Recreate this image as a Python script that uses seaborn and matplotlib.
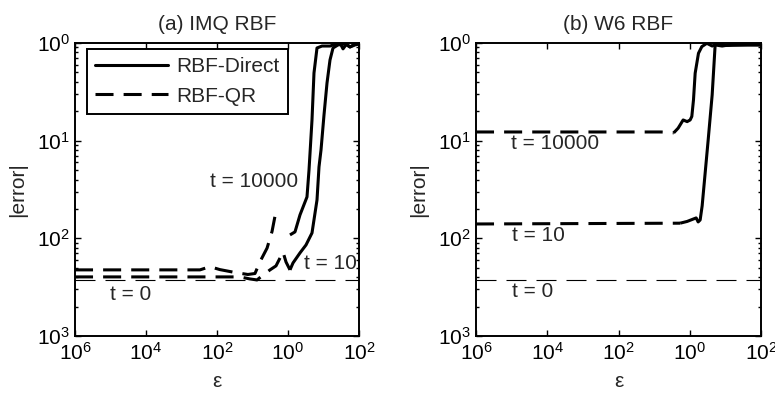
import numpy as np
import pandas as pd
import matplotlib
matplotlib.use("Agg")
import matplotlib.pyplot as plt
import matplotlib.ticker as mticker
from matplotlib.lines import Line2D
import seaborn as sns

# ---------------- data (log10 exponents) ----------------
panel_titles = ["(a) IMQ RBF", "(b) W6 RBF"]
xtick_exp = [-6, -4, -2, 0, 2]
xtick_labels = ["$10^{6}$", "$10^{4}$", "$10^{2}$", "$10^{0}$", "$10^{2}$"]
ytick_exp = [0, -1, -2, -3]
ytick_labels = ["$10^{0}$", "$10^{1}$", "$10^{2}$", "$10^{3}$"]
legend_labels = ["RBF-Direct", "RBF-QR"]
ylabel_text = "|error|"
xlabel_text = "ε"

t0_x = [-6, 2]
t0_y = [-2.43, -2.43]

# IMQ, t = 10000
imq_qr_10000_x = [-6, -2.48, -2.2, -1.92, -1.49, -1.13, -0.93, -0.79, -0.59, -0.45, -0.37]
imq_qr_10000_y = [-2.323, -2.323, -2.29, -2.32, -2.35, -2.37, -2.36, -2.24, -2.10, -1.93, -1.78]
imq_dir_10000_x = [0.056, 0.197, 0.338, 0.535, 0.592, 0.676, 0.732, 0.817, 0.958, 1.183,
                   1.352, 1.465, 1.55, 1.65, 1.746, 1.887, 2.0]
imq_dir_10000_y = [-1.965, -1.934, -1.760, -1.576, -1.300, -0.788, -0.307, -0.051, -0.031,
                   -0.031, -0.010, 0.0, -0.06, -0.01, -0.04, -0.01, -0.01]
# IMQ, t = 10
imq_qr_10_x = [-6, -1.352, -1.070, -0.873, -0.732, -0.507, -0.338, -0.225, -0.141, -0.056, 0.056]
imq_qr_10_y = [-2.395, -2.395, -2.416, -2.426, -2.385, -2.323, -2.282, -2.201, -2.139, -2.242, -2.323]
imq_dir_10_x = [0.056, 0.141, 0.338, 0.507, 0.676, 0.817, 0.873, 0.930, 1.014, 1.099, 1.183,
                1.268, 1.408, 1.606, 1.746, 1.887, 2.0]
imq_dir_10_y = [-2.323, -2.252, -2.149, -2.068, -1.945, -1.607, -1.269, -1.095, -0.737, -0.409,
                -0.174, -0.051, -0.020, -0.010, -0.041, -0.020, -0.010]

# W6, t = 10000
w6_qr_10000_x = [-6, -0.8, -0.45]
w6_qr_10000_y = [-0.911, -0.911, -0.92]
w6_dir_10000_x = [-0.45, -0.326, -0.185, -0.073, 0.011, 0.058, 0.105, 0.152, 0.245, 0.339,
                  0.48, 0.63, 0.80, 1.0, 2.0]
w6_dir_10000_y = [-0.92, -0.872, -0.788, -0.805, -0.788, -0.752, -0.582, -0.309, -0.105, -0.037,
                  -0.003, -0.031, 0.0, -0.025, -0.020]
# W6, t = 10
w6_qr_10_x = [-6, -0.27]
w6_qr_10_y = [-1.853, -1.845]
w6_dir_10_x = [-0.27, -0.073, 0.067, 0.180, 0.236, 0.292, 0.348, 0.517, 0.629, 0.713, 0.910, 1.275, 2.0]
w6_dir_10_y = [-1.845, -1.827, -1.807, -1.791, -1.832, -1.812, -1.668, -0.993, -0.532, -0.020,
               -0.031, -0.010, -0.020]

panels = [
    dict(qr=[(imq_qr_10000_x, imq_qr_10000_y), (imq_qr_10_x, imq_qr_10_y)],
         direct=[(imq_dir_10000_x, imq_dir_10000_y), (imq_dir_10_x, imq_dir_10_y)],
         labels=[("t = 10000", -0.958, -1.423), ("t = 10", 1.19, -2.262), ("t = 0", -4.42, -2.579)]),
    dict(qr=[(w6_qr_10000_x, w6_qr_10000_y), (w6_qr_10_x, w6_qr_10_y)],
         direct=[(w6_dir_10000_x, w6_dir_10000_y), (w6_dir_10_x, w6_dir_10_y)],
         labels=[("t = 10000", -3.78, -1.024), ("t = 10", -4.26, -1.975), ("t = 0", -4.40, -2.54)]),
]

# ---------------- style ----------------
sns.set_style("ticks")
plt.rcParams["font.family"] = ["Liberation Sans", "DejaVu Sans"]
plt.rcParams["mathtext.fontset"] = "custom"
plt.rcParams["mathtext.rm"] = "Liberation Sans"
plt.rcParams["mathtext.it"] = "Liberation Sans:italic"
plt.rcParams["mathtext.bf"] = "Liberation Sans:bold"
FS = 15
LW = 2.2
THICK_DASH = (5.9, 3.3)
THIN_DASH = (18, 9)

fig = plt.figure(figsize=(7.75, 3.93), dpi=100)
ax_pos = [[75 / 775, 57 / 393, 284 / 775, 293 / 393],
          [476 / 775, 57 / 393, 285 / 775, 293 / 393]]


def draw(ax, xs, ys, dashes=None, lw=LW):
    df = pd.DataFrame({"eps": np.power(10.0, xs), "err": np.power(10.0, ys)})
    sns.lineplot(data=df, x="eps", y="err", ax=ax, color="black", lw=lw,
                 sort=False, estimator=None, legend=False)
    line = ax.lines[-1]
    if dashes is not None:
        line.set_dashes(dashes)
    line.set_solid_capstyle("butt")
    line.set_dash_capstyle("butt")
    return line


for i, p in enumerate(panels):
    ax = fig.add_axes(ax_pos[i])
    ax.set_xscale("log")
    ax.set_yscale("log")
    draw(ax, t0_x, t0_y, dashes=THIN_DASH, lw=0.8)
    for xs, ys in p["qr"]:
        draw(ax, xs, ys, dashes=THICK_DASH)
    for xs, ys in p["direct"]:
        draw(ax, xs, ys)
    for txt, lx, ly in p["labels"]:
        ax.text(10 ** lx, 10 ** ly, txt, ha="center", va="center", fontsize=FS)

    ax.set_xlim(1e-6, 1e2)
    ax.set_ylim(1e-3, 1e0)
    ax.xaxis.set_major_locator(mticker.FixedLocator([10.0 ** e for e in xtick_exp]))
    ax.xaxis.set_major_formatter(mticker.FixedFormatter(xtick_labels))
    ax.xaxis.set_minor_locator(mticker.NullLocator())
    ax.yaxis.set_major_locator(mticker.FixedLocator([10.0 ** e for e in ytick_exp]))
    ax.yaxis.set_major_formatter(mticker.FixedFormatter(ytick_labels))
    ax.yaxis.set_minor_locator(mticker.LogLocator(base=10, subs=np.arange(2, 10)))
    ax.yaxis.set_minor_formatter(mticker.NullFormatter())
    ax.tick_params(which="both", direction="in", top=True, right=True, labelsize=FS,
                   width=1.0, colors="black")
    ax.tick_params(which="major", length=4)
    ax.tick_params(which="minor", length=2)
    ax.tick_params(axis="x", pad=4)
    for s in ax.spines.values():
        s.set_visible(True)
        s.set_linewidth(1.4)
        s.set_color("black")
    ax.set_title(panel_titles[i], fontsize=FS, pad=9)
    ax.set_xlabel(xlabel_text, fontsize=FS, labelpad=6)
    ax.set_ylabel(ylabel_text, fontsize=FS, labelpad=7)

    if i == 0:
        handles = [Line2D([], [], color="black", lw=LW),
                   Line2D([], [], color="black", lw=LW, dashes=THICK_DASH)]
        leg = ax.legend(handles, legend_labels, loc="upper left",
                        bbox_to_anchor=(0.042, 0.98), fontsize=FS, frameon=True,
                        fancybox=False, handlelength=3.5, handletextpad=0.4,
                        borderpad=0.4, labelspacing=0.5, borderaxespad=0)
        leg.get_frame().set_edgecolor("black")
        leg.get_frame().set_linewidth(1.4)
        leg.get_frame().set_facecolor("white")
        leg.get_frame().set_alpha(1)

fig.savefig("out.png", dpi=100)
